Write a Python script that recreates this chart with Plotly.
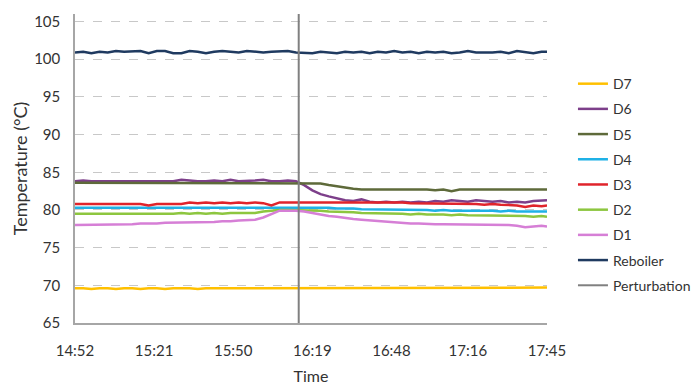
import plotly.graph_objects as go

# Sample times, in minutes after 14:52
minutes = list(range(0, 172, 3)) + [173]

tick_minutes = [0, 29, 58, 87, 116, 144, 173]
tick_labels = ["14:52", "15:21", "15:50", "16:19", "16:48", "17:16", "17:45"]

perturbation_minute = 82
perturbation_span = [65, 106]

d7 = [69.6, 69.6, 69.5, 69.6, 69.6, 69.5, 69.6, 69.6, 69.5, 69.6,
      69.6, 69.5, 69.6, 69.6, 69.6, 69.5, 69.6, 69.6, 69.6, 69.6,
      69.6, 69.6, 69.6, 69.6, 69.6, 69.6, 69.6, 69.6, 69.6, 69.6,
      69.6, 69.6, 69.6, 69.6, 69.6, 69.6, 69.7, 69.7, 69.6, 69.7,
      69.7, 69.6, 69.7, 69.7, 69.7, 69.7, 69.7, 69.7, 69.7, 69.7,
      69.7, 69.7, 69.7, 69.7, 69.7, 69.7, 69.7, 69.7, 69.7]

d6 = [83.8, 83.9, 83.8, 83.8, 83.9, 83.8, 83.8, 83.8, 83.9, 83.8,
      83.8, 83.9, 83.8, 84.0, 83.9, 83.8, 83.8, 83.9, 83.8, 84.0,
      83.8, 83.8, 83.9, 84.0, 83.8, 83.8, 83.9, 83.8, 83.3, 82.6,
      82.1, 81.8, 81.5, 81.3, 81.2, 81.4, 81.1, 81.0, 81.1, 81.0,
      81.1, 81.0, 81.1, 81.0, 81.2, 81.1, 81.3, 81.2, 81.1, 81.3,
      81.2, 81.1, 81.2, 81.0, 81.1, 81.0, 81.2, 81.3, 81.3]

d5 = [83.6, 83.6, 83.6, 83.6, 83.6, 83.6, 83.6, 83.6, 83.6, 83.6,
      83.6, 83.6, 83.6, 83.6, 83.6, 83.6, 83.6, 83.6, 83.6, 83.6,
      83.6, 83.6, 83.6, 83.6, 83.6, 83.6, 83.6, 83.6, 83.6, 83.6,
      83.5, 83.3, 83.1, 82.9, 82.8, 82.7, 82.7, 82.7, 82.7, 82.7,
      82.7, 82.7, 82.7, 82.7, 82.6, 82.7, 82.5, 82.7, 82.7, 82.7,
      82.7, 82.7, 82.7, 82.7, 82.7, 82.7, 82.7, 82.7, 82.7]

d4 = [80.3, 80.3, 80.3, 80.3, 80.3, 80.3, 80.3, 80.3, 80.3, 80.3,
      80.3, 80.3, 80.3, 80.3, 80.3, 80.3, 80.3, 80.3, 80.3, 80.3,
      80.3, 80.3, 80.3, 80.3, 80.4, 80.4, 80.4, 80.4, 80.4, 80.3,
      80.3, 80.3, 80.2, 80.2, 80.2, 80.1, 80.1, 80.1, 80.0, 80.0,
      80.0, 80.0, 80.0, 80.0, 79.9, 80.0, 79.9, 79.9, 79.9, 79.9,
      79.9, 79.9, 79.8, 79.9, 79.8, 79.8, 79.8, 79.8, 79.8]

d3 = [80.8, 80.8, 80.8, 80.8, 80.8, 80.8, 80.8, 80.8, 80.8, 80.6,
      80.8, 80.8, 80.8, 80.8, 81.0, 80.9, 81.0, 80.9, 81.0, 80.9,
      81.0, 80.9, 81.0, 80.9, 80.6, 81.0, 81.0, 81.0, 81.0, 81.0,
      81.0, 81.0, 81.0, 81.0, 81.0, 81.0, 81.0, 81.0, 81.0, 81.0,
      81.0, 80.9, 80.9, 80.9, 80.9, 80.9, 80.8, 80.9, 80.8, 80.8,
      80.7, 80.8, 80.7, 80.6, 80.6, 80.4, 80.6, 80.5, 80.6]

d2 = [79.5, 79.5, 79.4, 79.5, 79.5, 79.5, 79.5, 79.4, 79.5, 79.5,
      79.5, 79.5, 79.5, 79.6, 79.5, 79.6, 79.5, 79.6, 79.5, 79.6,
      79.6, 79.5, 79.6, 79.8, 79.9, 80.0, 80.0, 80.0, 80.0, 79.9,
      79.9, 79.8, 79.8, 79.7, 79.7, 79.6, 79.6, 79.5, 79.6, 79.5,
      79.5, 79.4, 79.5, 79.4, 79.4, 79.4, 79.3, 79.4, 79.3, 79.3,
      79.3, 79.3, 79.2, 79.3, 79.2, 79.2, 79.1, 79.2, 79.1]

d1 = [78.0, 78.0, 78.1, 78.0, 78.1, 78.1, 78.1, 78.1, 78.2, 78.2,
      78.2, 78.3, 78.3, 78.3, 78.4, 78.4, 78.4, 78.4, 78.5, 78.5,
      78.6, 78.6, 78.7, 79.0, 79.5, 79.9, 79.9, 79.9, 79.8, 79.6,
      79.4, 79.2, 79.1, 78.9, 78.8, 78.7, 78.6, 78.5, 78.4, 78.4,
      78.3, 78.2, 78.2, 78.1, 78.1, 78.1, 78.1, 78.1, 78.0, 78.1,
      78.1, 78.0, 78.0, 78.0, 77.9, 77.7, 77.8, 77.9, 77.8]

reboiler = [100.9, 101.0, 100.8, 101.0, 100.9, 101.1, 101.0, 101.1, 101.1, 100.8,
            101.1, 101.1, 100.8, 100.8, 101.1, 101.0, 100.8, 101.0, 101.1, 101.0,
            100.9, 101.1, 101.0, 100.9, 101.0, 101.0, 101.1, 100.9, 100.9, 100.8,
            101.0, 100.9, 100.8, 101.0, 100.9, 101.0, 100.8, 101.0, 100.9, 101.1,
            100.9, 101.0, 100.8, 101.0, 100.9, 101.0, 100.8, 100.9, 101.1, 100.9,
            100.9, 100.9, 101.0, 100.8, 101.1, 100.9, 100.8, 101.0, 101.0]

series_names = ["D7", "D6", "D5", "D4", "D3", "D2", "D1", "Reboiler"]
series_values = [d7, d6, d5, d4, d3, d2, d1, reboiler]
series_colors = ["#FFC000", "#7D3F8A", "#5E6A3A", "#1FB1E6", "#E0242B",
                 "#8DC63F", "#D67FD6", "#1F3A60"]

FONT = "Lato, 'Open Sans', sans-serif"

fig = go.Figure()
for name, vals, color in zip(series_names, series_values, series_colors):
    fig.add_trace(go.Scatter(
        x=minutes, y=vals, mode="lines", name=name, legendgroup=name,
        line=dict(color=color, width=2.5),
    ))

fig.add_trace(go.Scatter(
    x=[perturbation_minute, perturbation_minute], y=perturbation_span,
    mode="lines", name="Perturbation", legendgroup="Perturbation",
    line=dict(color="#808080", width=2),
))

fig.update_layout(
    width=694, height=385,
    margin=dict(l=75, r=147, t=14, b=62, autoexpand=False),
    paper_bgcolor="white", plot_bgcolor="white",
    font=dict(family=FONT, size=15, color="#333333"),
    legend=dict(
        x=1.055, y=0.825, xanchor="left", yanchor="top",
        font=dict(family=FONT, size=14, color="#333333"),
        tracegroupgap=4, itemwidth=30,
        bgcolor="rgba(0,0,0,0)",
    ),
    showlegend=True,
)

fig.update_xaxes(
    range=[0, 173], tickmode="array", tickvals=tick_minutes, ticktext=tick_labels,
    showgrid=False, zeroline=False, showline=True, linecolor="#A6A6A6", linewidth=1.5,
    ticks="", ticklabelstandoff=13,
    title=dict(text="Time", standoff=17, font=dict(size=16)),
)
fig.update_yaxes(
    range=[65, 106], tickmode="array", tickvals=[65, 70, 75, 80, 85, 90, 95, 100, 105],
    showgrid=True, gridcolor="#C8C8C8", griddash="dash", gridwidth=1,
    zeroline=False, showline=True, linecolor="#A6A6A6", linewidth=1.5,
    ticks="", ticklabelstandoff=10,
    title=dict(text="Temperature (°C)", standoff=2, font=dict(size=18)),
)

fig.write_html("out.html")
